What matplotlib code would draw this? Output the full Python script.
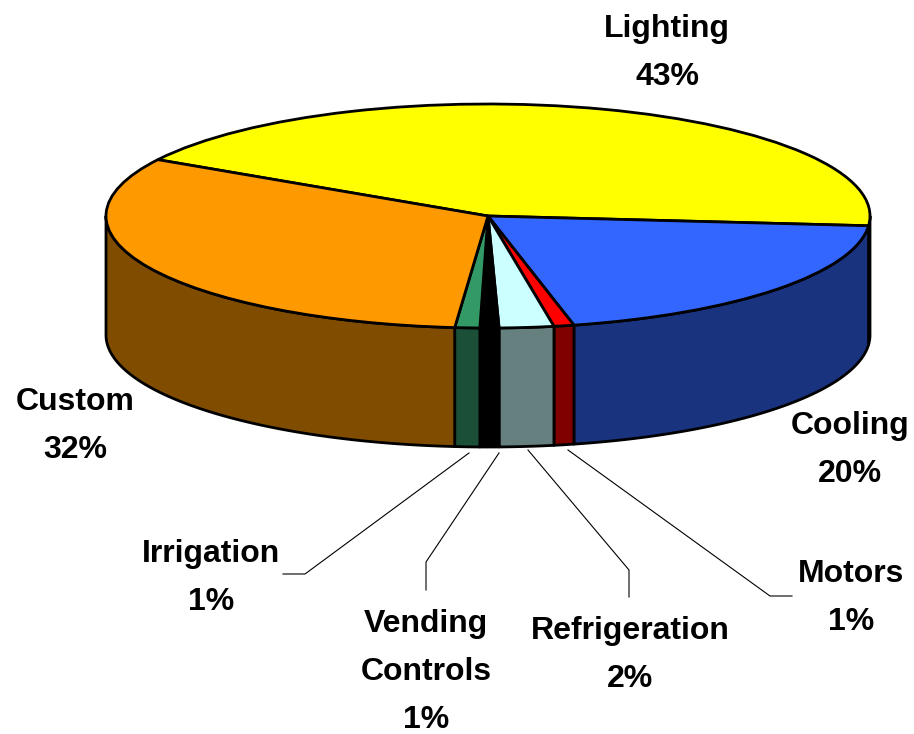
import numpy as np
import matplotlib
matplotlib.use('Agg')
import matplotlib.pyplot as plt

names = ['Lighting', 'Cooling', 'Motors', 'Refrigeration', 'Vending\nControls', 'Irrigation', 'Custom']
values = [43, 20, 0.85, 2.3, 0.8, 1.05, 32]
pct_labels = ['43%', '20%', '1%', '2%', '1%', '1%', '32%']
top_colors = ['#FFFF00', '#3366FF', '#FF0000', '#CCFFFF', '#000000', '#339966', '#FF9900']
side_colors = ['#000000', '#19337F', '#800000', '#668080', '#000000', '#1C4F38', '#804C00']

W, H = 914, 734
cx, cy = 488, 216   # pie centre in pixels
rx, ry = 382, 112
depth = 119 / ry
start = 149.8

# where each label sits, pixels
label_pos = [(667, 53), (850, 450), (851, 598), (630, 655), (426, 672), (211, 578), (75, 426)]
# leader lines, pixels
leaders = [
    [(469, 453), (305, 574), (283, 574)],
    [(499, 453), (426, 562), (426, 590)],
    [(528, 450), (629, 570), (629, 597)],
    [(568, 450), (770, 596), (792, 596)],
]


def px(x, y):
    return (x - cx) / rx, (cy - y) / ry


fig = plt.figure(figsize=(W / 100, H / 100), dpi=100)
ax = fig.add_axes([0, 0, 1, 1])

# side walls, only the front half of the ellipse shows
a = start
for v, c in zip(values, side_colors):
    a2 = a - v * 3.6
    lo = max(a2, -180)
    hi = min(a, 0)
    if hi > lo:
        t = np.radians(np.linspace(hi, lo, 120))
        xs = np.r_[np.cos(t), np.cos(t[::-1])]
        ys = np.r_[np.sin(t), np.sin(t[::-1]) - depth]
        ax.fill(xs, ys, facecolor=c, edgecolor='black', linewidth=2, joinstyle='round')
    a = a2

ax.pie(values, colors=top_colors, startangle=start, counterclock=False, radius=1,
       wedgeprops={'edgecolor': 'black', 'linewidth': 2})

for line in leaders:
    pts = np.array([px(*p) for p in line])
    ax.plot(pts[:, 0], pts[:, 1], color='black', linewidth=0.8)

for n, p, pos in zip(names, pct_labels, label_pos):
    x, y = px(*pos)
    ax.text(x, y, n + '\n' + p, ha='center', va='center', fontsize=23, fontweight='bold',
            family='Liberation Sans', linespacing=1.8, color='black')

ax.set_aspect('auto')
ax.set_xlim(px(0, 0)[0], px(W, 0)[0])
ax.set_ylim(px(0, H)[1], px(0, 0)[1])
ax.axis('off')

fig.savefig('out.png', dpi=100, facecolor='white')
